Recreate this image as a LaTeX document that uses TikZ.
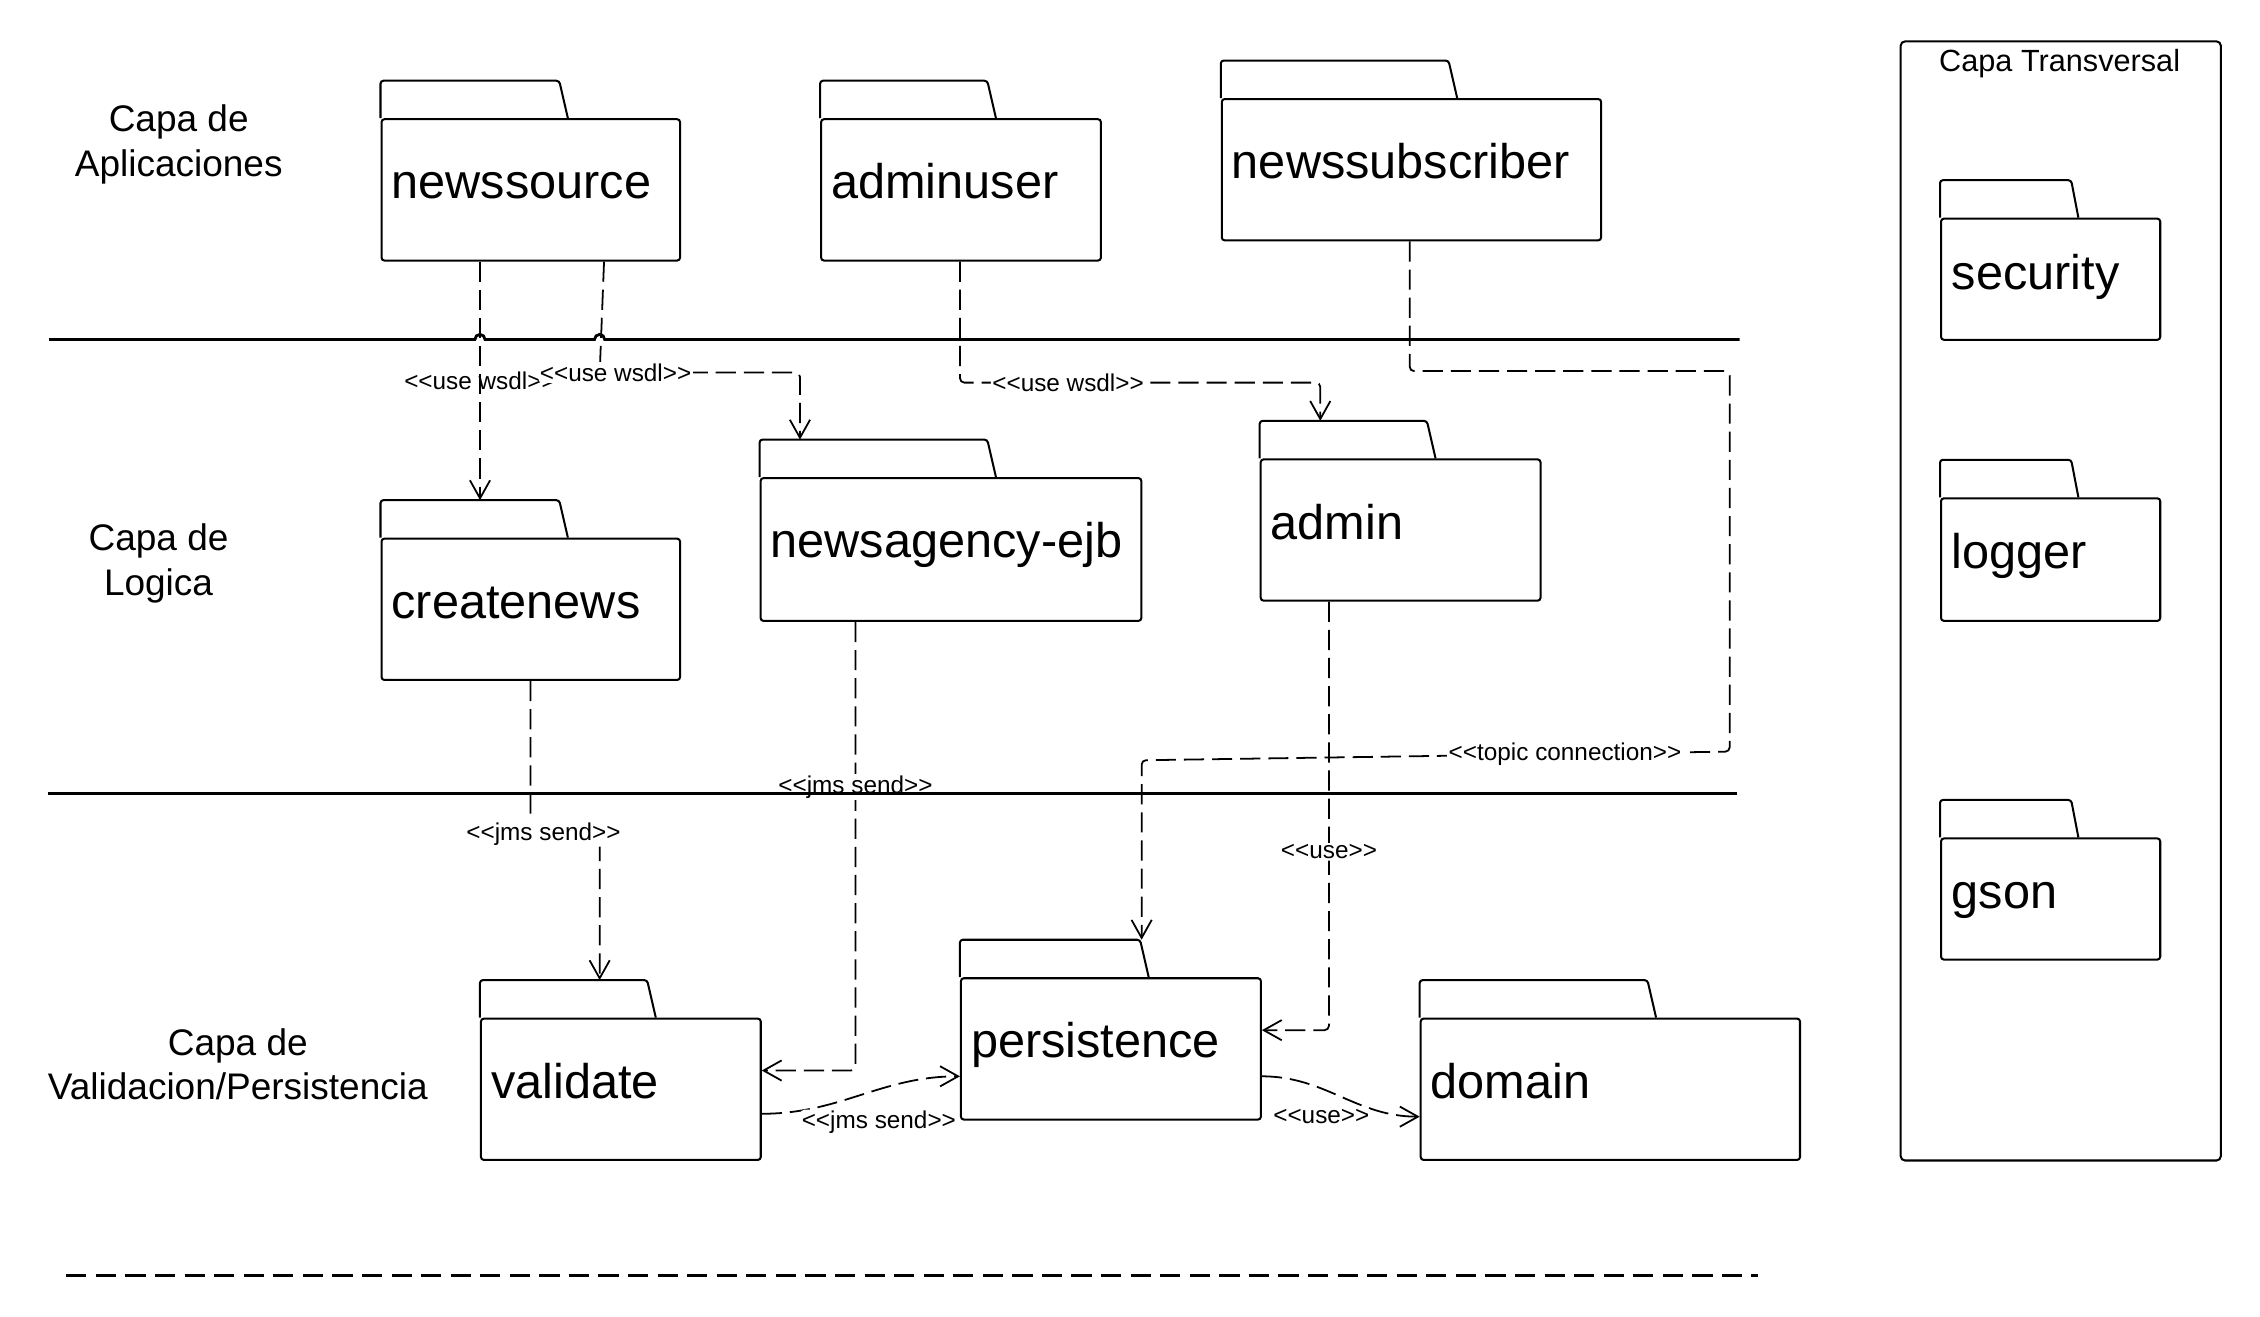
\documentclass[tikz,border=0pt]{standalone}
\usepackage{fontspec}
\setmainfont{Liberation Sans}
\usetikzlibrary{arrows.meta}
\newcommand\stereo[1]{<\kern0pt<#1>\kern0pt>}

\begin{document}
\begin{tikzpicture}[x=0.01cm, y=-0.01cm,
	pkg/.style={draw, line width=0.4pt, rounded corners=0.02cm, anchor=north west, inner sep=0pt},
	pkgtab/.style={line width=0.4pt, rounded corners=0.02cm},
	pkgname/.style={anchor=base west, inner sep=0pt, font=\fontsize{9.6}{11}\selectfont},
	layer/.style={align=center, inner sep=0pt, font=\fontsize{7.3}{8.8}\selectfont},
	dep/.style={line width=0.35pt, dash pattern=on 0.14cm off 0.055cm, rounded corners=0.03cm, -{Straight Barb[length=0.125cm, width=0.14cm]}},
	lbl/.style={fill=white, inner sep=0.3pt, font=\fontsize{4.8}{5.5}\selectfont},
	sep/.style={line width=0.55pt}]
	\useasboundingbox (0,0) rectangle (1568,913.05);

	% layers
	\node[layer] (app-layer) at (124,100) {Capa de\\Aplicaciones};
	\node[layer] (logic-layer) at (110,391) {Capa de\\Logica};
	\node[layer] (val-layer) at (165,738.5) {Capa de\\Validacion/Persistencia};

	% applications
	\node[pkg, minimum width=2.07cm, minimum height=0.98cm] (newssource) at (264,82) {};
	\draw[pkgtab] (newssource.north west) -- ++(0,-26) -- ++(124,0) -- ++(6,26);
	\node[pkgname] (t-newssource) at ([xshift=0.07cm,yshift=-0.56cm]newssource.north west) {newssource};
	\node[pkg, minimum width=1.94cm, minimum height=0.98cm] (adminuser) at (569,82) {};
	\draw[pkgtab] (adminuser.north west) -- ++(0,-26) -- ++(116,0) -- ++(6,26);
	\node[pkgname] (t-adminuser) at ([xshift=0.07cm,yshift=-0.56cm]adminuser.north west) {adminuser};
	\node[pkg, minimum width=2.63cm, minimum height=0.98cm] (newssubscriber) at (847,68) {};
	\draw[pkgtab] (newssubscriber.north west) -- ++(0,-26) -- ++(158,0) -- ++(6,26);
	\node[pkgname] (t-newssubscriber) at ([xshift=0.07cm,yshift=-0.56cm]newssubscriber.north west) {newssubscriber};

	% logic
	\node[pkg, minimum width=2.07cm, minimum height=0.98cm] (createnews) at (264,373) {};
	\draw[pkgtab] (createnews.north west) -- ++(0,-26) -- ++(124,0) -- ++(6,26);
	\node[pkgname] (t-createnews) at ([xshift=0.07cm,yshift=-0.56cm]createnews.north west) {createnews};
	\node[pkg, minimum width=2.64cm, minimum height=0.99cm] (newsagency) at (527,331) {};
	\draw[pkgtab] (newsagency.north west) -- ++(0,-26) -- ++(158,0) -- ++(6,26);
	\node[pkgname] (t-newsagency) at ([xshift=0.07cm,yshift=-0.56cm]newsagency.north west) {newsagency-ejb};
	\node[pkg, minimum width=1.94cm, minimum height=0.98cm] (admin) at (874,318) {};
	\draw[pkgtab] (admin.north west) -- ++(0,-26) -- ++(116,0) -- ++(6,26);
	\node[pkgname] (t-admin) at ([xshift=0.07cm,yshift=-0.56cm]admin.north west) {admin};

	% validation / persistence
	\node[pkg, minimum width=1.94cm, minimum height=0.98cm] (validate) at (333,706) {};
	\draw[pkgtab] (validate.north west) -- ++(0,-26) -- ++(116,0) -- ++(6,26);
	\node[pkgname] (t-validate) at ([xshift=0.07cm,yshift=-0.56cm]validate.north west) {validate};
	\node[pkg, minimum width=2.08cm, minimum height=0.98cm] (persistence) at (666,678) {};
	\draw[pkgtab] (persistence.north west) -- ++(0,-26) -- ++(125,0) -- ++(6,26);
	\node[pkgname] (t-persistence) at ([xshift=0.07cm,yshift=-0.56cm]persistence.north west) {persistence};
	\node[pkg, minimum width=2.63cm, minimum height=0.98cm] (domain) at (985,706) {};
	\draw[pkgtab] (domain.north west) -- ++(0,-26) -- ++(158,0) -- ++(6,26);
	\node[pkgname] (t-domain) at ([xshift=0.07cm,yshift=-0.56cm]domain.north west) {domain};

	% transversal
	\node[pkg, rounded corners=0.03cm, minimum width=2.22cm, minimum height=7.76cm] (transversal) at (1318,28) {};
	\node[anchor=base, inner sep=0pt, font=\fontsize{6.05}{7}\selectfont] (t-transversal) at (1429,49.5) {Capa Transversal};
	\node[pkg, minimum width=1.52cm, minimum height=0.84cm] (security) at (1346,151) {};
	\draw[pkgtab] (security.north west) -- ++(0,-26) -- ++(91,0) -- ++(5,26);
	\node[pkgname] (t-security) at ([xshift=0.075cm,yshift=-0.495cm]security.north west) {security};
	\node[pkg, minimum width=1.52cm, minimum height=0.85cm] (logger) at (1346,345) {};
	\draw[pkgtab] (logger.north west) -- ++(0,-26) -- ++(91,0) -- ++(5,26);
	\node[pkgname] (t-logger) at ([xshift=0.075cm,yshift=-0.495cm]logger.north west) {logger};
	\node[pkg, minimum width=1.52cm, minimum height=0.84cm] (gson) at (1346,581) {};
	\draw[pkgtab] (gson.north west) -- ++(0,-26) -- ++(91,0) -- ++(5,26);
	\node[pkgname] (t-gson) at ([xshift=0.075cm,yshift=-0.495cm]gson.north west) {gson};

	% dependencies
	\draw[dep] ([xshift=0.69cm]newssource.south west) -- node[lbl, fill=none] {\stereo{use wsdl}} ([xshift=0.69cm,yshift=0.26cm]createnews.north west);
	\draw[dep] ([xshift=1.55cm]newssource.south west) -- ++(-3,77) node[lbl, xshift=0.11cm] {\stereo{use wsdl}} -| ([xshift=0.28cm,yshift=0.26cm]newsagency.north west);
	\draw[dep] ([xshift=0.97cm]adminuser.south west) -- ++(0,84) -| node[lbl, pos=0.15] {\stereo{use wsdl}} ([xshift=0.42cm,yshift=0.26cm]admin.north west);
	\draw[dep] ([xshift=1.31cm]newssubscriber.south west) -- ++(0,90) -- ++(222,0) -- ++(0,264) -- node[lbl, pos=0.28] {\stereo{topic connection}} ++(-408,6) -- ([xshift=1.26cm,yshift=0.26cm]persistence.north west);
	\draw[dep] ([xshift=1.04cm]createnews.south west) -- ++(0,106) node[lbl, xshift=0.09cm] {\stereo{jms send}} -| ([xshift=0.83cm,yshift=0.26cm]validate.north west);
	\draw[dep] ([xshift=0.665cm]newsagency.south west) |- node[lbl, pos=0.184] {\stereo{jms send}} ([yshift=0.13cm]validate.east);
	\draw[dep] ([xshift=0.48cm]admin.south west) |- node[lbl, pos=0.292] {\stereo{use}} ([yshift=0.13cm]persistence.east);
	\draw[dep] ([yshift=-0.17cm]validate.east) to[out=0, in=180] node[lbl, xshift=0.125cm, yshift=-0.19cm] {\stereo{jms send}} ([yshift=-0.19cm]persistence.west);
	\draw[dep] ([yshift=-0.19cm]persistence.east) to[out=0, in=180] node[lbl, xshift=-0.135cm, yshift=-0.14cm] {\stereo{use}} ([yshift=-0.19cm]domain.west);

	% layer borders
	\draw[sep] (34,235.5) -- (329.5,235.5) arc[start angle=180, end angle=0, radius=0.035cm] -- (412.5,235.5) arc[start angle=180, end angle=0, radius=0.035cm] -- (1207,235.5);
	\draw[sep] (33,550.5) -- (1205,550.5);
	\draw[sep, dash pattern=on 0.14cm off 0.065cm] (46,885) -- (1220,885);
\end{tikzpicture}
\end{document}
